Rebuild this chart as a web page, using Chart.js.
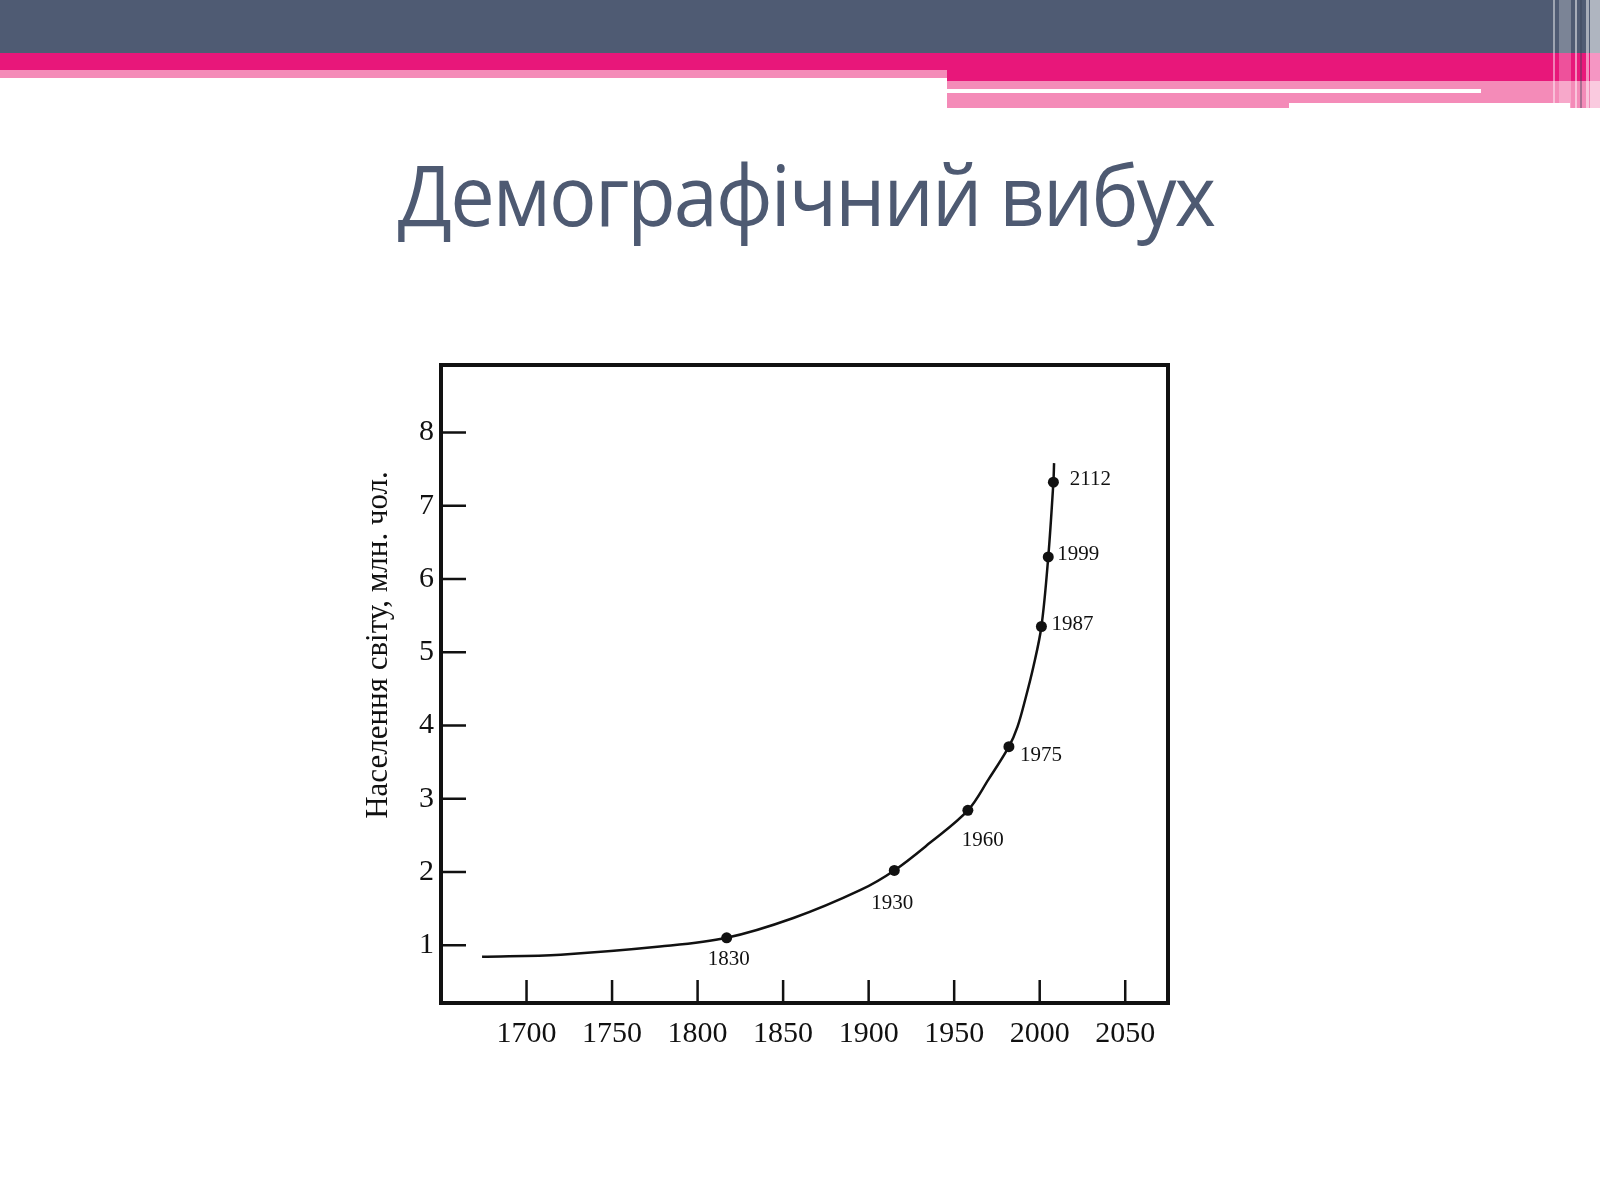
<!DOCTYPE html>
<html>
<head>
<meta charset="utf-8">
<script src="https://cdn.jsdelivr.net/npm/chart.js@4.4.1/dist/chart.umd.min.js"></script>
<style>
  body { margin: 0; background: #fff; width: 1600px; height: 1200px; position: relative; overflow: hidden; }
  .band { position: absolute; }
  #title {
    position: absolute; left: 0; width: 1612px; top: 136px; text-align: center;
    font-family: "Open Sans", sans-serif; font-size: 84px; color: #4e5a72;
    letter-spacing: -2px; transform: scaleX(0.944); transform-origin: 806px 0;
  }
  #wrap { position: absolute; left: 300px; top: 340px; width: 900px; height: 760px; }
</style>
</head>
<body>
<div class="band" style="left:0;top:0;width:1600px;height:53px;background:#4f5b73"></div>
<div class="band" style="left:0;top:53px;width:1600px;height:17px;background:#e8177a"></div>
<div class="band" style="left:0;top:70px;width:947px;height:8px;background:#f48bb8"></div>
<div class="band" style="left:947px;top:70px;width:653px;height:11px;background:#e8177a"></div>
<div class="band" style="left:947px;top:81px;width:653px;height:8px;background:#f48bb8"></div>
<div class="band" style="left:1481px;top:89px;width:119px;height:4px;background:#f48bb8"></div>
<div class="band" style="left:947px;top:93px;width:342px;height:15px;background:#f48bb8"></div>
<div class="band" style="left:1289px;top:93px;width:311px;height:10px;background:#f48bb8"></div>
<div class="band" style="left:1570px;top:103px;width:30px;height:5px;background:#f48bb8"></div>
<div class="band" style="left:1553px;top:0;width:2px;height:108px;background:#fff;opacity:.45"></div>
<div class="band" style="left:1559px;top:0;width:12px;height:108px;background:#fff;opacity:.25"></div>
<div class="band" style="left:1575px;top:0;width:2px;height:108px;background:#fff;opacity:.5"></div>
<div class="band" style="left:1580px;top:0;width:2px;height:108px;background:#3a4358;opacity:.4"></div>
<div class="band" style="left:1586px;top:0;width:3px;height:108px;background:#fff;opacity:.5"></div>
<div class="band" style="left:1590px;top:0;width:10px;height:108px;background:#fff;opacity:.55"></div>
<div id="title">Демографічний вибух</div>
<div id="wrap"><canvas id="myChart"></canvas></div>
<script>
// curve of world population (billions)
const curveYears  = [1674, 1720, 1778, 1817, 1856, 1895, 1915, 1936, 1958, 1970, 1982, 1987, 1991.5, 1996.3, 2001, 2005, 2008, 2008.4];
const curveValues = [0.84, 0.87, 0.98, 1.10, 1.37, 1.75, 2.02, 2.40, 2.84, 3.26, 3.71, 3.98, 4.35, 4.80, 5.35, 6.30, 7.32, 7.58];

// marked points and their captions
const markYears  = [1817, 1915, 1958, 1982, 2001, 2005, 2008];
const markValues = [1.10, 2.02, 2.84, 3.71, 5.35, 6.30, 7.32];
const markLabels = ["1830", "1930", "1960", "1975", "1987", "1999", "2112"];

const xTicks = [1700, 1750, 1800, 1850, 1900, 1950, 2000, 2050];
const yTicks = [1, 2, 3, 4, 5, 6, 7, 8];
const yTitle = "Населення світу, млн. чол.";

// caption offsets from each dot, px
const labelDx = [2, -2, 15, 32, 31, 30, 37];
const labelDy = [22, 33, 30, 9, -2, -2, -3];

const serif = '"Liberation Serif", "DejaVu Serif", serif';

const paperPlugin = {
    id: "paper",
    afterDraw(chart) {
        const ctx = chart.ctx;
        const a = chart.chartArea;
        const xs = chart.scales.x;
        const ys = chart.scales.y;
        ctx.save();
        ctx.strokeStyle = "#111";
        ctx.lineWidth = 4;
        ctx.strokeRect(a.left, a.top, a.right - a.left, a.bottom - a.top);

        ctx.lineWidth = 2.5;
        ctx.beginPath();
        xTicks.forEach(v => {
            const px = xs.getPixelForValue(v);
            ctx.moveTo(px, a.bottom);
            ctx.lineTo(px, a.bottom - 23);
        });
        yTicks.forEach(v => {
            const py = ys.getPixelForValue(v);
            ctx.moveTo(a.left, py);
            ctx.lineTo(a.left + 25, py);
        });
        ctx.stroke();

        // captions next to the dots
        const meta = chart.getDatasetMeta(1);
        ctx.fillStyle = "#111";
        ctx.font = "21px " + serif;
        ctx.textAlign = "center";
        ctx.textBaseline = "middle";
        meta.data.forEach((pt, i) => {
            ctx.fillText(markLabels[i], pt.x + labelDx[i], pt.y + labelDy[i]);
        });

        // rotated axis title
        ctx.font = "31px " + serif;
        ctx.translate(a.left - 62, (a.top + a.bottom) / 2 - 39);
        ctx.rotate(-Math.PI / 2);
        ctx.fillText(yTitle, 0, 0);
        ctx.restore();
    }
};

let chart;

function initChart() {
    const ctx = document.getElementById("myChart").getContext("2d");
    chart = new Chart(ctx, {
        type: "line",
        data: {
            datasets: [{
                data: curveYears.map((x, i) => ({ x: x, y: curveValues[i] })),
                borderColor: "#111",
                borderWidth: 2.5,
                pointRadius: 0,
                tension: 0.35,
                fill: false
            }, {
                data: markYears.map((x, i) => ({ x: x, y: markValues[i] })),
                showLine: false,
                pointRadius: 5.5,
                pointBackgroundColor: "#111",
                pointBorderColor: "#111",
                pointBorderWidth: 0
            }]
        },
        options: {
            responsive: true,
            maintainAspectRatio: false,
            animation: false,
            layout: { padding: { top: 25, right: 32, left: 0, bottom: 0 } },
            plugins: {
                legend: { display: false },
                tooltip: { enabled: false }
            },
            scales: {
                x: {
                    type: "linear",
                    min: 1650,
                    max: 2075,
                    grid: { display: false, drawTicks: false },
                    border: { display: false },
                    afterBuildTicks: axis => { axis.ticks = xTicks.map(v => ({ value: v })); },
                    afterFit: axis => { axis.height = 97; },
                    ticks: {
                        padding: 13,
                        color: "#111",
                        font: { family: serif, size: 30 },
                        callback: v => String(v)
                    }
                },
                y: {
                    min: 0.21,
                    max: 8.92,
                    grid: { display: false, drawTicks: false },
                    border: { display: false },
                    afterBuildTicks: axis => { axis.ticks = yTicks.map(v => ({ value: v })); },
                    afterFit: axis => { axis.width = 141; },
                    ticks: {
                        padding: 7,
                        color: "#111",
                        font: { family: serif, size: 30 },
                        callback: v => String(v)
                    }
                }
            }
        },
        plugins: [paperPlugin]
    });
}

document.addEventListener("DOMContentLoaded", function() {
    initChart();
});
</script>
</body>
</html>
